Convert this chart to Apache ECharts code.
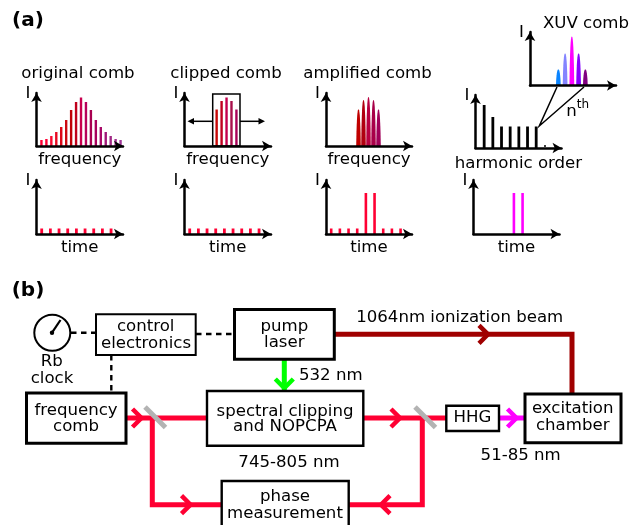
<!DOCTYPE html>
<html><head><meta charset="utf-8">
<style>html,body{margin:0;padding:0;background:#fff}#c{width:630px;height:525px}</style>
<script src="https://cdn.jsdelivr.net/npm/echarts@6/dist/echarts.min.js"></script>
</head><body><div id="c"></div>
<script>
// ---- data: comb-line numbers and relative intensities
const originalLines = [1,2,3,4,5,6,7,8,9,10,11,12,13,14,15,16,17];
const originalValues = [6,7,10,14,19,26,36,44,48.5,44,36,26,19,14,10,7,6];
const clippedLines = [6.5,7.5,8.5,9.5,10.5];
const clippedValues = [36.5,45,48.5,45,36.5];
const amplifiedLines = [6.5,7.5,8.5,9.5,10.5];
const amplifiedValues = [36.5,46,49,46,36.5];
const harmonicOrders = [1,2,3,4,5,6,7];
const harmonicValues = [43,31,21.5,21.5,21.5,21.5,21.5];
const xuvLines = [1,2,3,4,5];
const xuvValues = [16,32,49,32,16];
const pulseSlots = [1,2,3,4,5,6,7,8,9];
const trainValues = [5.5,5.5,5.5,5.5,5.5,5.5,5.5,5.5,5.5];
const amplifiedTrainValues = [5.5,5.5,5.5,5.5,41,41,5.5,5.5,5.5];
const harmonicTrainSlots = [5,6];
const harmonicTrainValues = [41,41];
const originalColors = ['#ff0033','#ff0033','#f80a30','#e80a22','#dc0818','#cc0810','#c00008','#c0001c','#c8004e','#b8005a','#a80050','#a8005c','#a80a68','#a01878','#a02884','#a0308e','#a03898'];
const clippedColors = ['#c80808','#c00020','#c4004e','#a8104c','#a80058'];
const amplifiedColors = ['#c00000','#b00010','#b80040','#a80048','#a00058'];
const xuvColors = ['#0a84ff','#8484ff','#ff00ff','#8400ff','#800080'];
const FONT = 'DejaVu Sans';
const FS = 16.6;

// ---- layout of the small plots (pixels)
const panels = [
 {id:'original', x0:36.5, x1:123, y0:146, y1:93,  unit:4.945, xname:'frequency', gap:5.5},
 {id:'clipped',  x0:184.5,x1:271, y0:146, y1:93,  unit:4.945, xname:'frequency', gap:5.5},
 {id:'amplified',x0:326,  x1:412, y0:146, y1:93,  unit:5,     xname:'frequency', gap:5.5},
 {id:'harmonic', x0:475.5,x1:561.5,y0:148, y1:95, unit:8.67,  xname:'harmonic order', gap:7},
 {id:'xuv',      x0:530,  x1:616, y0:85.5,y1:32,  unit:6.75,  xname:'', gap:5},
 {id:'t1',       x0:36.5, x1:123, y0:234, y1:180, unit:8.67,  xname:'time', gap:5},
 {id:'t2',       x0:184.5,x1:271, y0:234, y1:180, unit:8.67,  xname:'time', gap:5},
 {id:'t3',       x0:326,  x1:412, y0:234, y1:180, unit:8.67,  xname:'time', gap:5},
 {id:'t4',       x0:473.5,x1:559.5,y0:234, y1:180, unit:8.67, xname:'time', gap:5}
];
const axisBase = {
  axisTick:{show:false}, axisLabel:{show:false}, splitLine:{show:false}, z:4
};
const axisLine = {show:true, onZero:false, symbol:['none','arrow'], symbolSize:[8,9], lineStyle:{color:'#000',width:2.5}};
const grids=[], xAxes=[], yAxes=[];
panels.forEach((p,i)=>{
  grids.push({left:p.x0, width:p.x1-p.x0, top:p.y1, height:p.y0-p.y1, containLabel:false});
  xAxes.push(Object.assign({}, axisBase, {type:'value', gridIndex:i, min:0, max:(p.x1-p.x0)/p.unit, axisLine,
    name:p.xname, nameLocation:'middle', nameGap:p.gap, nameTextStyle:{fontFamily:FONT,fontSize:FS,color:'#000'}}));
  yAxes.push(Object.assign({}, axisBase, {type:'value', gridIndex:i, min:0, max:p.y0-p.y1, axisLine,
    name:'I', nameLocation:'end', nameGap:-1, nameRotate:0,
    nameTextStyle:{fontFamily:FONT,fontSize:FS,color:'#000',align:'right',verticalAlign:'middle',padding:[0,6,0,0]}}));
});
// sticks are plain rectangles, amplified lines are bell-shaped
function sticks(idx, xs, ys, colors, w){
  return {type:'custom', xAxisIndex:idx, yAxisIndex:idx, z:2, silent:true,
    data:xs.map((x,i)=>[x,ys[i],i]), clip:false,
    renderItem:(params,api)=>{
      const a=api.coord([api.value(0),0]), b=api.coord([api.value(0),api.value(1)]);
      return {type:'rect',shape:{x:a[0]-w/2,y:b[1],width:w,height:a[1]-b[1]},
        style:{fill:Array.isArray(colors)?colors[api.value(2)]:colors}};
    }};
}
function bumps(idx, xs, ys, colors, w){
  return {type:'custom', xAxisIndex:idx, yAxisIndex:idx, z:2, silent:true,
    data:xs.map((x,i)=>[x,ys[i],i]), clip:false,
    renderItem:(params,api)=>{
      const a=api.coord([api.value(0),0]), b=api.coord([api.value(0),api.value(1)]);
      const pts=[]; const n=16;
      for(let k=0;k<=n;k++){
        const t=-1+2*k/n;
        pts.push([a[0]+t*w/2, a[1]-(a[1]-b[1])*Math.pow(1-Math.pow(Math.abs(t),2.6),0.75)]);
      }
      return {type:'polygon',shape:{points:pts},style:{fill:colors[api.value(2)]}};
    }};
}
const series=[
  sticks(0,originalLines,originalValues,originalColors,2.4),
  sticks(1,clippedLines,clippedValues,clippedColors,2.4),
  bumps(2,amplifiedLines,amplifiedValues,amplifiedColors,4.6),
  sticks(3,harmonicOrders,harmonicValues,'#000',2.8),
  bumps(4,xuvLines.map(v=>v+3.2),xuvValues,xuvColors,4.8),
  sticks(5,pulseSlots.map(v=>v-0.4),trainValues,'#ff0033',2.8),
  sticks(6,pulseSlots.map(v=>v-0.4),trainValues,'#ff0033',2.8),
  sticks(7,pulseSlots.map(v=>v-0.4),amplifiedTrainValues,'#ff0033',2.6),
  sticks(8,harmonicTrainSlots.map(v=>v-0.34),harmonicTrainValues,'#ff00ff',2.6)
];

// ---- schematic drawn as graphics
const g=[];
const txt=(s,x,y,o={})=>g.push({type:'text',x,y,z:20,silent:true,style:Object.assign({text:s,fontFamily:FONT,fontSize:FS,fill:'#000',align:'center',verticalAlign:'middle'},o)});
const line=(pts,color,w,o={})=>g.push({type:'polyline',z:o.z||10,silent:true,shape:{points:pts},style:{stroke:color,lineWidth:w,fill:null,lineDash:o.dash||null,lineCap:'butt',lineJoin:'miter'}});
const box=(x0,y0,x1,y1,w,o={})=>g.push({type:'rect',z:o.z||12,silent:true,shape:{x:x0,y:y0,width:x1-x0,height:y1-y0},style:{stroke:'#000',lineWidth:w,fill:o.fill===undefined?'#fff':o.fill}});
const chev=(x,y,dx,dy,color)=>{
  const arm=9;
  const a = dx!==0 ? [[x-dx*arm,y-arm],[x,y],[x-dx*arm,y+arm]] : [[x-arm,y-dy*arm],[x,y],[x+arm,y-dy*arm]];
  line(a,color,4.5,{z:11});
};
// titles
txt('(a)',28,21,{fontWeight:'bold',fontSize:20});
txt('(b)',28,291,{fontWeight:'bold',fontSize:20});
txt('original comb',78,74);
txt('clipped comb',226,74);
txt('amplified comb',367.5,74);
txt('XUV comb',586,24);
txt('n',571.5,112);
txt('th',583,105,{fontSize:12});
// clip box and arrows
box(212.7,94,240,146,1.5,{fill:null});
line([[190,121.3],[212.7,121.3]],'#000',1.5);
line([[240,121.3],[262,121.3]],'#000',1.5);
g.push({type:'polygon',z:10,silent:true,shape:{points:[[187.5,121.3],[194,118],[194,124.6]]},style:{fill:'#000'}});
g.push({type:'polygon',z:10,silent:true,shape:{points:[[265,121.3],[258.5,118],[258.5,124.6]]},style:{fill:'#000'}});
// zoom lines
line([[557,87],[539.3,126],[584,87]],'#000',1.5);
g.push({type:'circle',z:10,silent:true,shape:{cx:545,cy:146,r:1},style:{fill:'#000'}});
// beams
const RED='#ff0033', DARK='#a00000', GREEN='#00ff00', MAG='#ff00ff', GRAY='#b3b3b3';
line([[334,334.3],[572,334.3],[572,394]],DARK,5);
chev(488,334.3,1,0,DARK);
line([[284.3,359],[284.3,391]],GREEN,5);
chev(284.3,388,0,1,GREEN);
line([[126,418],[207,418]],RED,5);
line([[152.3,418],[152.3,504.7],[222,504.7]],RED,5);
line([[363,418],[446,418]],RED,5);
line([[422.3,418],[422.3,504.7],[349,504.7]],RED,5);
chev(141.5,418,1,0,RED);
chev(190.5,504.7,1,0,RED);
chev(400,418,1,0,RED);
chev(381,504.7,-1,0,RED);
line([[499,418],[525,418]],MAG,5);
chev(516.5,418,1,0,MAG);
line([[145,407],[165.5,427.5]],GRAY,5,{z:11});
line([[415,407],[435.5,427.5]],GRAY,5,{z:11});
// dashed links
line([[71,332.7],[96,332.7]],'#000',2.4,{dash:[5.5,4.5]});
line([[196,334],[234,334]],'#000',2.4,{dash:[5.5,4.5]});
line([[111.3,355],[111.3,392.7]],'#000',2.4,{dash:[5.5,4.5]});
// boxes
box(96,314.3,195.7,355,2);
box(234.5,309.5,334.3,359.3,3);
box(26.5,393,126,443.3,3);
box(207,391,363.3,445.7,2.4);
box(221.7,481,348.7,540,2.4);
box(446.3,405.7,499,431,2.4);
box(525,394,621,442.7,3);
// clock
g.push({type:'circle',z:12,silent:true,shape:{cx:52.3,cy:332.7,r:18},style:{stroke:'#000',lineWidth:2,fill:'#fff'}});
line([[52,332.7],[60.5,320]],'#000',2.2,{z:13});
g.push({type:'circle',z:13,silent:true,shape:{cx:52,cy:332.7,r:2.2},style:{fill:'#000'}});
// labels
txt('Rb',51.7,361.7); txt('clock',52,378.3);
txt('control',145.7,327); txt('electronics',146,344);
txt('pump',284.3,326.7); txt('laser',284.3,342.7);
txt('frequency',76,410.7); txt('comb',76,426.7);
txt('spectral clipping',285,411.3); txt('and NOPCPA',285,426.7);
txt('745-805 nm',289,463);
txt('phase',285,496.7); txt('measurement',285,513.3);
txt('532 nm',299,375.3,{align:'left'});
txt('1064nm ionization beam',459.7,317.7);
txt('HHG',472.5,418);
txt('excitation',572.7,408.7); txt('chamber',572.7,425.3);
txt('51-85 nm',520.7,456);

const chart=echarts.init(document.getElementById('c'),null,{renderer:'canvas'});
chart.setOption({animation:false,backgroundColor:'#fff',grid:grids,xAxis:xAxes,yAxis:yAxes,series,graphic:{elements:g}});
</script></body></html>
